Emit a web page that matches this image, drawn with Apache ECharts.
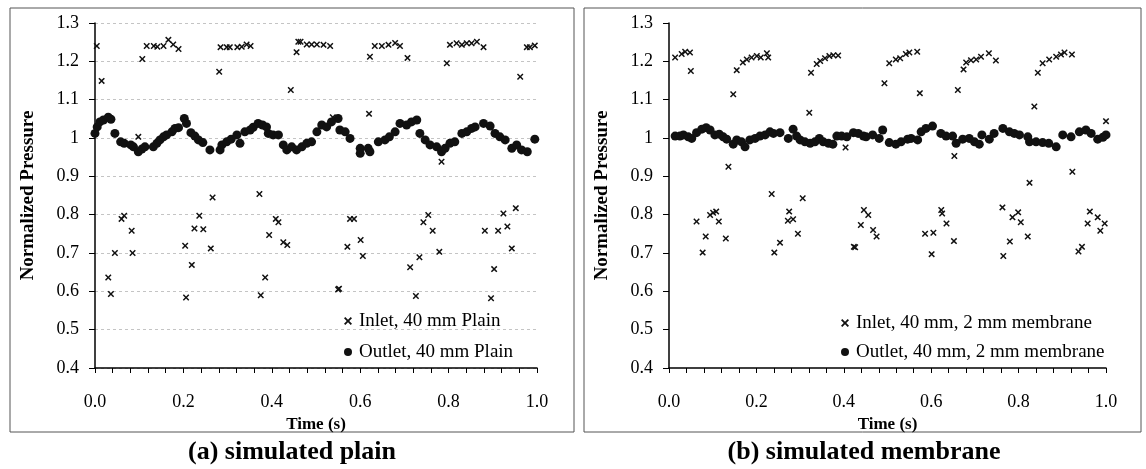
<!DOCTYPE html>
<html>
<head>
<meta charset="utf-8">
<script src="https://cdn.jsdelivr.net/npm/echarts@6/dist/echarts.min.js"></script>
<style>
  html, body { margin: 0; padding: 0; background: #fff; }
  #chart { width: 1146px; height: 469px; }
</style>
</head>
<body>
<div id="chart"></div>
<script>
// tick labels / axis ranges
var yTicks = [0.4, 1.3, 0.1];
var xTicks = [0, 1, 0.2];

// (a) simulated plain : [time, normalized pressure]
var inletA = [
  [0.004, 1.240], [0.015, 1.149], [0.030, 0.636], [0.036, 0.593], [0.045, 0.700],
  [0.060, 0.789], [0.066, 0.797], [0.083, 0.758], [0.085, 0.700], [0.098, 1.003],
  [0.107, 1.206], [0.117, 1.240], [0.133, 1.240], [0.141, 1.238], [0.155, 1.240],
  [0.166, 1.256], [0.177, 1.244], [0.189, 1.232], [0.204, 0.719], [0.206, 0.584],
  [0.219, 0.669], [0.225, 0.764], [0.236, 0.797], [0.245, 0.762], [0.262, 0.712],
  [0.266, 0.845], [0.281, 1.173], [0.284, 1.237], [0.298, 1.237], [0.305, 1.237],
  [0.322, 1.237], [0.332, 1.238], [0.343, 1.244], [0.352, 1.240], [0.372, 0.854],
  [0.375, 0.590], [0.385, 0.636], [0.394, 0.747], [0.409, 0.789], [0.415, 0.780],
  [0.426, 0.728], [0.435, 0.721], [0.443, 1.125], [0.456, 1.224], [0.460, 1.251],
  [0.465, 1.251], [0.479, 1.244], [0.490, 1.244], [0.502, 1.244], [0.517, 1.243],
  [0.532, 1.240], [0.538, 1.054], [0.550, 0.605], [0.552, 0.607], [0.571, 0.716],
  [0.577, 0.789], [0.586, 0.789], [0.601, 0.734], [0.606, 0.692], [0.620, 1.063],
  [0.622, 1.212], [0.633, 1.240], [0.649, 1.240], [0.664, 1.243], [0.679, 1.248],
  [0.690, 1.240], [0.707, 1.209], [0.713, 0.663], [0.726, 0.588], [0.734, 0.689],
  [0.743, 0.780], [0.754, 0.799], [0.764, 0.758], [0.779, 0.703], [0.784, 0.938],
  [0.796, 1.195], [0.803, 1.243], [0.818, 1.247], [0.830, 1.243], [0.841, 1.247],
  [0.852, 1.247], [0.864, 1.251], [0.879, 1.237], [0.882, 0.758], [0.896, 0.582],
  [0.903, 0.658], [0.912, 0.758], [0.924, 0.803], [0.933, 0.769], [0.943, 0.712],
  [0.952, 0.817], [0.962, 1.160], [0.977, 1.237], [0.984, 1.237], [0.995, 1.241]
];
var outletA = [
  [0.000, 1.012], [0.005, 1.029], [0.011, 1.042], [0.019, 1.047], [0.030, 1.054],
  [0.036, 1.049], [0.045, 1.012], [0.058, 0.990], [0.066, 0.986], [0.081, 0.982],
  [0.087, 0.977], [0.098, 0.964], [0.106, 0.971], [0.113, 0.977], [0.132, 0.977],
  [0.140, 0.986], [0.147, 0.995], [0.155, 1.003], [0.162, 1.008], [0.174, 1.016],
  [0.181, 1.025], [0.189, 1.027], [0.202, 1.051], [0.207, 1.038], [0.217, 1.014],
  [0.226, 1.005], [0.234, 0.995], [0.244, 0.988], [0.260, 0.969], [0.283, 0.969],
  [0.287, 0.982], [0.298, 0.990], [0.308, 0.997], [0.321, 1.008], [0.328, 0.986],
  [0.339, 1.016], [0.351, 1.021], [0.358, 1.028], [0.369, 1.038], [0.379, 1.034],
  [0.388, 1.029], [0.392, 1.012], [0.403, 1.008], [0.415, 1.008], [0.426, 0.982],
  [0.434, 0.969], [0.445, 0.977], [0.456, 0.969], [0.468, 0.977], [0.479, 0.986],
  [0.490, 0.990], [0.502, 1.016], [0.513, 1.034], [0.524, 1.029], [0.535, 1.042],
  [0.550, 1.051], [0.554, 1.021], [0.566, 1.016], [0.577, 0.999], [0.600, 0.973],
  [0.600, 0.960], [0.618, 0.973], [0.622, 0.964], [0.641, 0.990], [0.656, 0.995],
  [0.666, 1.003], [0.679, 1.016], [0.690, 1.038], [0.705, 1.034], [0.716, 1.042],
  [0.728, 1.047], [0.735, 1.012], [0.747, 0.995], [0.758, 0.982], [0.773, 0.977],
  [0.784, 0.964], [0.792, 0.973], [0.803, 0.986], [0.814, 0.990], [0.830, 1.012],
  [0.841, 1.016], [0.852, 1.025], [0.860, 1.029], [0.879, 1.038], [0.894, 1.031],
  [0.905, 1.012], [0.916, 1.003], [0.928, 0.995], [0.943, 0.973], [0.954, 0.982],
  [0.965, 0.969], [0.978, 0.964], [0.995, 0.997]
];

// (b) simulated membrane
var inletB = [
  [0.014, 1.210], [0.029, 1.219], [0.037, 1.225], [0.048, 1.223], [0.050, 1.175],
  [0.063, 0.782], [0.077, 0.701], [0.084, 0.743], [0.094, 0.799], [0.101, 0.805],
  [0.108, 0.808], [0.114, 0.782], [0.130, 0.738], [0.136, 0.925], [0.147, 1.114],
  [0.155, 1.177], [0.169, 1.197], [0.178, 1.205], [0.189, 1.210], [0.201, 1.214],
  [0.210, 1.210], [0.224, 1.221], [0.227, 1.210], [0.235, 0.854], [0.241, 0.701],
  [0.254, 0.727], [0.272, 0.784], [0.275, 0.808], [0.284, 0.788], [0.295, 0.750],
  [0.306, 0.843], [0.321, 1.066], [0.325, 1.170], [0.338, 1.193], [0.346, 1.201],
  [0.357, 1.208], [0.367, 1.214], [0.376, 1.216], [0.387, 1.215], [0.404, 0.975],
  [0.423, 0.716], [0.426, 0.715], [0.439, 0.773], [0.446, 0.812], [0.456, 0.799],
  [0.467, 0.760], [0.475, 0.743], [0.487, 1.021], [0.493, 1.143], [0.504, 1.195],
  [0.519, 1.205], [0.529, 1.208], [0.542, 1.219], [0.550, 1.223], [0.568, 1.225],
  [0.574, 1.117], [0.586, 0.750], [0.601, 0.697], [0.605, 0.753], [0.623, 0.812],
  [0.625, 0.803], [0.635, 0.777], [0.652, 0.731], [0.653, 0.953], [0.661, 1.125],
  [0.674, 1.179], [0.680, 1.197], [0.691, 1.203], [0.703, 1.205], [0.714, 1.212],
  [0.732, 1.221], [0.748, 1.202], [0.763, 0.819], [0.765, 0.692], [0.780, 0.730],
  [0.786, 0.793], [0.799, 0.806], [0.805, 0.780], [0.821, 0.743], [0.825, 0.883],
  [0.836, 1.082], [0.844, 1.170], [0.855, 1.195], [0.870, 1.205], [0.886, 1.212],
  [0.897, 1.218], [0.905, 1.223], [0.922, 1.218], [0.923, 0.912], [0.937, 0.704],
  [0.945, 0.716], [0.958, 0.777], [0.963, 0.808], [0.981, 0.793], [0.987, 0.758],
  [0.997, 0.777], [1.000, 1.044]
];
var outletB = [
  [0.014, 1.005], [0.025, 1.005], [0.033, 1.008], [0.044, 1.003], [0.052, 0.999],
  [0.063, 1.014], [0.075, 1.023], [0.085, 1.027], [0.094, 1.021], [0.105, 1.008],
  [0.115, 1.010], [0.124, 1.003], [0.132, 0.997], [0.147, 0.984], [0.155, 0.995],
  [0.166, 0.990], [0.174, 0.977], [0.185, 0.995], [0.197, 0.999], [0.208, 1.005],
  [0.220, 1.008], [0.231, 1.016], [0.239, 1.012], [0.254, 1.014], [0.273, 0.999],
  [0.284, 1.023], [0.292, 1.005], [0.300, 0.995], [0.311, 0.990], [0.323, 0.986],
  [0.334, 0.990], [0.344, 0.999], [0.353, 0.990], [0.365, 0.986], [0.375, 0.984],
  [0.384, 1.005], [0.395, 1.005], [0.407, 1.003], [0.422, 1.014], [0.433, 1.012],
  [0.445, 1.005], [0.451, 1.003], [0.466, 1.008], [0.481, 0.999], [0.489, 1.021],
  [0.504, 0.988], [0.519, 0.984], [0.531, 0.990], [0.546, 0.997], [0.554, 0.999],
  [0.569, 0.995], [0.577, 1.016], [0.588, 1.025], [0.603, 1.031], [0.622, 1.012],
  [0.634, 1.005], [0.649, 1.005], [0.657, 0.986], [0.672, 0.997], [0.687, 0.999],
  [0.699, 0.990], [0.710, 0.984], [0.716, 1.008], [0.733, 0.997], [0.744, 1.012],
  [0.764, 1.025], [0.779, 1.016], [0.790, 1.012], [0.802, 1.008], [0.821, 1.003],
  [0.825, 0.990], [0.840, 0.990], [0.855, 0.988], [0.869, 0.986], [0.886, 0.977],
  [0.901, 1.008], [0.920, 1.003], [0.939, 1.016], [0.954, 1.021], [0.966, 1.012],
  [0.981, 0.997], [0.993, 1.002], [1.000, 1.008]
];

var seriesNames = [
  'Inlet, 40 mm Plain', 'Outlet, 40 mm Plain',
  'Inlet, 40 mm, 2 mm membrane', 'Outlet, 40 mm, 2 mm membrane'
];
var panelTitles = ['(a) simulated plain', '(b) simulated membrane'];

var FONT = 'Liberation Serif';
var CROSS = 'path://M0,1.6L1.6,0L5,3.4L8.4,0L10,1.6L6.6,5L10,8.4L8.4,10L5,6.6L1.6,10L0,8.4L3.4,5Z';

var chart = echarts.init(document.getElementById('chart'), null, { renderer: 'canvas' });

function xAx(idx) {
  return {
    gridIndex: idx, type: 'value',
    min: xTicks[0], max: xTicks[1], interval: xTicks[2],
    name: 'Time (s)', nameLocation: 'middle', nameGap: 39,
    nameTextStyle: { fontFamily: FONT, fontWeight: 'bold', fontSize: 17, color: '#000' },
    axisLine: { lineStyle: { color: '#000', width: 1.5 } },
    axisTick: { length: 5, lineStyle: { color: '#000' } },
    minorTick: { show: true, splitNumber: 5, length: 5, lineStyle: { color: '#000' } },
    axisLabel: { fontFamily: FONT, fontSize: 18, color: '#000', margin: 25,
      formatter: function (v) { return v.toFixed(1); } },
    splitLine: { show: false }
  };
}
function yAx(idx, grid) {
  return {
    gridIndex: idx, type: 'value',
    min: yTicks[0], max: yTicks[1], interval: yTicks[2],
    name: 'Normalized Pressure', nameLocation: 'middle', nameGap: 57,
    nameTextStyle: { fontFamily: FONT, fontWeight: 'bold', fontSize: 19, color: '#000' },
    axisLine: { show: true, lineStyle: { color: '#000', width: 1.5 } },
    axisTick: { show: true, length: 6, lineStyle: { color: '#000' } },
    axisLabel: { fontFamily: FONT, fontSize: 18, color: '#000', margin: 16 },
    splitLine: { show: grid, lineStyle: { color: '#c4c4c4', type: [3, 3], width: 1 } }
  };
}
function scatter(name, data, idx, isInlet) {
  return {
    name: name, type: 'scatter', xAxisIndex: idx, yAxisIndex: idx,
    data: data,
    symbol: isInlet ? CROSS : 'circle',
    symbolSize: isInlet ? 6.5 : 9,
    itemStyle: { color: '#111', opacity: 1 },
    z: isInlet ? 3 : 2
  };
}
function legend(idx, left, top, gap) {
  return {
    orient: 'vertical', left: left, top: top, itemGap: gap,
    itemWidth: 8, itemHeight: 8,
    data: [
      { name: seriesNames[idx * 2], icon: CROSS },
      { name: seriesNames[idx * 2 + 1], icon: 'circle' }
    ],
    textStyle: { fontFamily: FONT, fontSize: 19, color: '#000', lineHeight: 20, padding: [0, 0, 0, 2] },
    selectedMode: false
  };
}
function titleText(x, txt) {
  return {
    type: 'text', x: x, y: 452,
    style: { text: txt, font: 'bold 26px "Liberation Serif"', fill: '#000',
      textAlign: 'center', textVerticalAlign: 'middle', align: 'center', verticalAlign: 'middle' }
  };
}

var option = {
  backgroundColor: '#ffffff',
  animation: false,
  grid: [
    { left: 95, right: 609, top: 23, bottom: 101 },
    { left: 669, right: 40, top: 23, bottom: 101 }
  ],
  xAxis: [xAx(0), xAx(1)],
  yAxis: [yAx(0, true), yAx(1, false)],
  legend: [legend(0, 339, 306, 11), legend(1, 836, 308, 9)],
  series: [
    scatter(seriesNames[0], inletA, 0, true),
    scatter(seriesNames[1], outletA, 0, false),
    scatter(seriesNames[2], inletB, 1, true),
    scatter(seriesNames[3], outletB, 1, false)
  ],
  graphic: [
    { type: 'rect', shape: { x: 10, y: 8, width: 564, height: 424 },
      style: { fill: 'none', stroke: '#555', lineWidth: 1 } },
    { type: 'rect', shape: { x: 584, y: 8, width: 557, height: 424 },
      style: { fill: 'none', stroke: '#555', lineWidth: 1 } },
    titleText(292, panelTitles[0]),
    titleText(864, panelTitles[1])
  ]
};

chart.setOption(option);
</script>
</body>
</html>
